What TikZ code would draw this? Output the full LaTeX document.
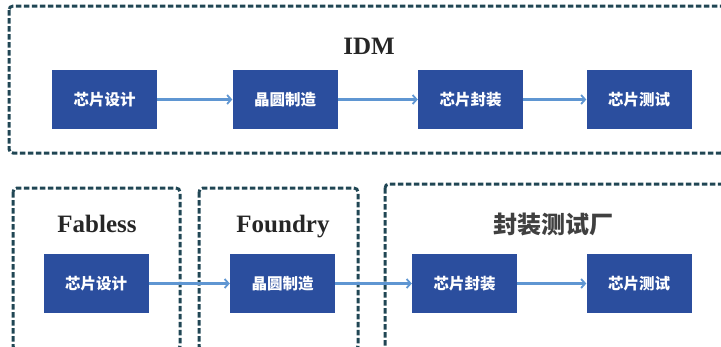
\documentclass[tikz,border=0pt]{standalone}
\usepackage{fontspec}
\setmainfont{Liberation Serif}
\newfontfamily\cjk{Noto Sans CJK SC}
\usetikzlibrary{arrows.meta}
\definecolor{boxblue}{RGB}{43,78,158}
\definecolor{frameteal}{RGB}{32,70,84}
\definecolor{arrowblue}{RGB}{95,150,210}
\tikzset{
  stepbox/.style={draw=none,fill=boxblue,minimum width=105pt,minimum height=59pt,inner sep=0pt,
    font=\cjk\bfseries\fontsize{15.5}{15.5}\selectfont,text=white},
  frame/.style={draw=frameteal,line width=3pt,dash pattern=on 5.5pt off 2.5pt,rounded corners=4pt},
  flow/.style={draw=arrowblue,line width=2.4pt,-{Straight Barb[length=4pt,width=9pt,line width=1.8pt]}},
  title/.style={anchor=base,inner sep=0pt,font=\bfseries\fontsize{25}{25}\selectfont,text=black!85},
  cjktitle/.style={font=\cjk\bfseries\fontsize{24}{24}\selectfont,text=black!75}
}
\begin{document}
\begin{tikzpicture}[x=1pt,y=-1pt]
\useasboundingbox (0,0) rectangle (721,346);
% frames
\draw[frame] (9,6) rectangle (725,153);
\draw[frame] (13,188) rectangle (180,350);
\draw[frame] (199,188) rectangle (358,350);
\draw[frame] (385,184) rectangle (725,350);
% titles
\node[title] (idm) at (369,54) {IDM};
\node[title] (fab) at (97,232) {Fabless};
\node[title] (fou) at (283,232) {Foundry};
\node[cjktitle] (osat) at (553,224) {封装测试厂};
% top row
\node[stepbox] (t1) at (104.5,99.5) {芯片设计};
\node[stepbox] (t2) at (285,99.5) {晶圆制造};
\node[stepbox] (t3) at (470.5,99.5) {芯片封装};
\node[stepbox] (t4) at (639,99.5) {芯片测试};
\draw[flow] (t1) -- (t2);
\draw[flow] (t2) -- (t3);
\draw[flow] (t3) -- (t4);
% bottom row
\node[stepbox] (b1) at (96,283.5) {芯片设计};
\node[stepbox] (b2) at (282.5,283.5) {晶圆制造};
\node[stepbox] (b3) at (464.5,283.5) {芯片封装};
\node[stepbox] (b4) at (639,283.5) {芯片测试};
\draw[flow] (b1) -- (b2);
\draw[flow] (b2) -- (b3);
\draw[flow] (b3) -- (b4);
\end{tikzpicture}
\end{document}
